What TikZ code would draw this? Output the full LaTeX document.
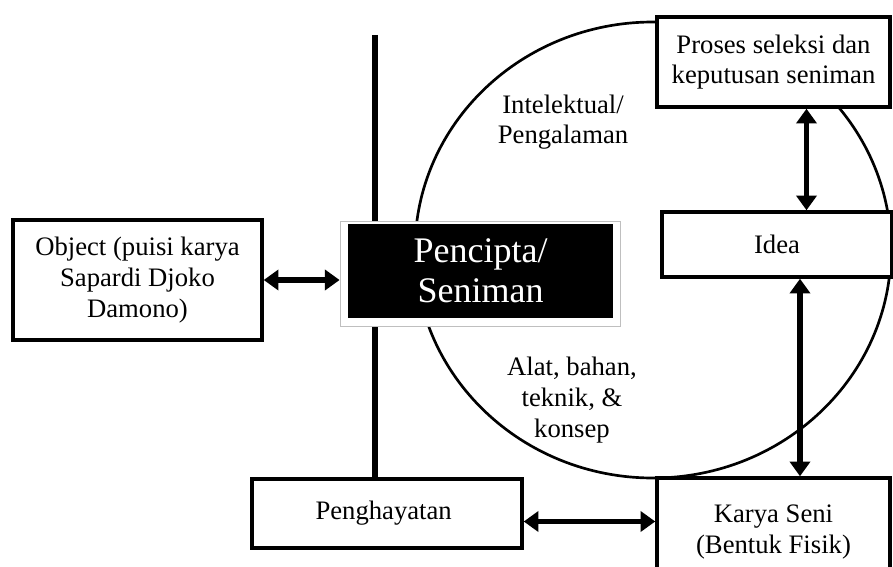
\documentclass[tikz,border=0pt]{standalone}
\usepackage{fontspec}
\setmainfont{Liberation Serif}
\usepackage{tikz}
\usetikzlibrary{arrows.meta}
\usetikzlibrary{shapes}
\tikzstyle{box}=[rectangle,draw,fill=white,line width=2.6pt,align=center,inner sep=2pt,font=\fontsize{20}{23}\selectfont]
\tikzstyle{blackbox}=[rectangle,fill=black,text=white,align=center,inner sep=2pt,font=\fontsize{27}{30}\selectfont]
\tikzstyle{framebox}=[rectangle,fill=white,draw=black!25,line width=0.6pt]
\tikzstyle{note}=[align=center,font=\fontsize{20}{23}\selectfont]
\tikzstyle{ring}=[draw,line width=2pt]
\tikzstyle{pole}=[draw,line width=4pt]
\tikzstyle{dblarrow}=[draw,line width=3.8pt,{Triangle[length=11pt,width=15pt]}-{Triangle[length=11pt,width=15pt]}]

\begin{document}
\begin{tikzpicture}[x=0.75pt,y=-0.75pt]

    \def\px{0.75pt};
    \useasboundingbox (0,0) rectangle (893,567);

    % lingkaran di belakang
    \draw[ring] (653,250) ellipse [x radius=238*\px, y radius=228*\px];

    \foreach \name/\x/\y/\w/\h/\txt in { obj/137.5/280/249/120/{Object (puisi karya\\Sapardi Djoko\\Damono)}, proses/773.5/62/233/90/{Proses seleksi dan\\keputusan seniman}, idea/777/244.5/230/65/Idea, karya/773.5/532/233/108/{Karya Seni\\(Bentuk Fisik)}, hayat/387/513.5/270/69/Penghayatan }
        \node[box, minimum width=\w*\px, minimum height=\h*\px] (\name) at (\x,\y) {\txt};

    \coordinate (poletop) at (375,35);
    \draw[pole] (poletop) -- (poletop |- hayat.north);

    % kotak hitam dengan bingkai putih
    \node[framebox, minimum width=280*\px, minimum height=105*\px] (rahmen) at (480,273.5) {};
    \node[blackbox, minimum width=265*\px, minimum height=94*\px] (cipta) at (480.5,271) {Pencipta/\\Seniman};

    \draw[dblarrow] (obj.east) -- (obj.east -| rahmen.west);
    \draw[dblarrow] ([xshift=33*\px]proses.south) -- ([xshift=33*\px]proses.south |- idea.north);
    \draw[dblarrow] ([xshift=23*\px]idea.south) -- ([xshift=23*\px]idea.south |- karya.north);
    \draw[dblarrow] ([yshift=-8*\px]hayat.east) -- ([yshift=-8*\px]hayat.east -| karya.west);

    \node[note] (intel) at (563,122) {Intelektual/\\Pengalaman};
    \node[note] (alat) at (572,400) {Alat, bahan,\\teknik, \&\\konsep};

\end{tikzpicture}
\end{document}
